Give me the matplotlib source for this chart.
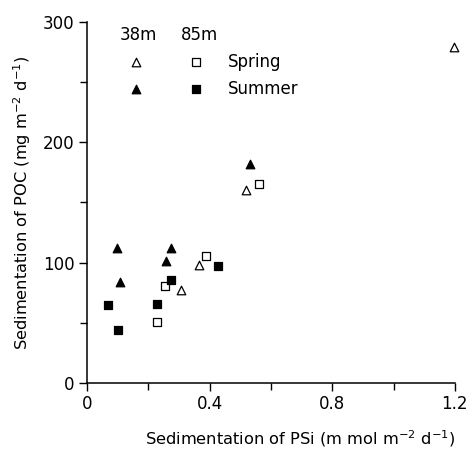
import matplotlib
matplotlib.use("Agg")
import matplotlib.pyplot as plt

# Data (PSi mmol m-2 d-1, POC mg m-2 d-1)
spring38_x = [0.520, 0.366, 0.308, 1.198]
spring38_y = [160, 98, 77, 279]
summer38_x = [0.533, 0.099, 0.107, 0.275, 0.259]
summer38_y = [182, 112, 84, 112.5, 101]
spring85_x = [0.561, 0.387, 0.255, 0.228]
spring85_y = [165, 105.5, 80.7, 51]
summer85_x = [0.067, 0.100, 0.227, 0.274, 0.427]
summer85_y = [65, 44, 66, 85.7, 97.5]

xticks = [0, 0.4, 0.8, 1.2]
xtick_labels = ["0", "0.4", "0.8", "1.2"]
yticks = [0, 100, 200, 300]

plt.rcParams['font.family'] = ['DejaVu Sans']
fig = plt.figure(figsize=(4.67, 4.49), dpi=100)
ax = fig.add_axes([0.1864, 0.147, 0.7876, 0.804])

kw_tri = dict(marker='^', s=38, edgecolors='black', linewidths=0.9, zorder=3, clip_on=False)
kw_sq = dict(marker='s', s=26, edgecolors='black', linewidths=0.9, zorder=3, clip_on=False)
ax.scatter(spring38_x, spring38_y, facecolors='white', **kw_tri)
ax.scatter(summer38_x, summer38_y, facecolors='black', **kw_tri)
ax.scatter(spring85_x, spring85_y, facecolors='white', **kw_sq)
ax.scatter(summer85_x, summer85_y, facecolors='black', **kw_sq)

# Manual legend
ax.text(0.169, 288.8, "38m", ha='center', va='center', fontsize=12)
ax.text(0.368, 288.8, "85m", ha='center', va='center', fontsize=12)
ax.scatter([0.161], [266.7], facecolors='white', **kw_tri)
ax.scatter([0.355], [266.7], facecolors='white', **kw_sq)
ax.scatter([0.161], [244.6], facecolors='black', **kw_tri)
ax.scatter([0.355], [244.6], facecolors='black', **kw_sq)
ax.text(0.459, 266.7, "Spring", ha='left', va='center', fontsize=12)
ax.text(0.459, 244.6, "Summer", ha='left', va='center', fontsize=12)

ax.set_xlim(0, 1.2)
ax.set_ylim(0, 300)
ax.set_xticks(xticks)
ax.set_xticklabels(xtick_labels)
ax.set_xticks([0.2, 0.6, 1.0], minor=True)
ax.set_yticks(yticks)
ax.set_yticks([50, 150, 250], minor=True)
ax.tick_params(which='major', direction='out', length=6, width=1, labelsize=12, pad=3)
ax.tick_params(which='minor', direction='out', length=5, width=1)
for s in ['top', 'right']:
    ax.spines[s].set_visible(False)
for s in ['left', 'bottom']:
    ax.spines[s].set_linewidth(1.1)

ax.set_xlabel("Sedimentation of PSi (m mol m$^{-2}$ d$^{-1}$)", fontsize=11.7, ha='right', x=1.0, labelpad=11)
ax.set_ylabel("Sedimentation of POC (mg m$^{-2}$ d$^{-1}$)", fontsize=11.7, labelpad=7)

fig.savefig("out.png", dpi=100)
